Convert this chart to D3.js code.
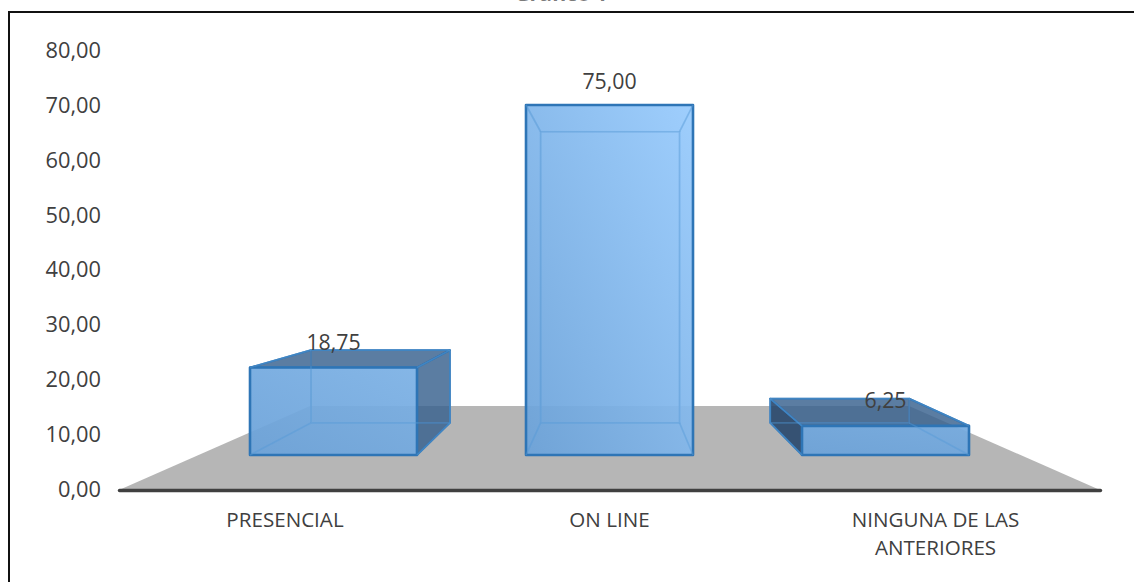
<!DOCTYPE html>
<html>
<head>
<meta charset="utf-8">
<script src="https://cdn.jsdelivr.net/npm/d3@7"></script>
<style>
  html, body { margin: 0; padding: 0; background: #fff; overflow: hidden; }
  svg { display: block; }
  text { font-family: "Open Sans", sans-serif; fill: #404040; }
</style>
</head>
<body>
<div id="chart"></div>
<script>
var categories = ['PRESENCIAL', 'ON LINE', 'NINGUNA DE LAS ANTERIORES'];
var values = [18.75, 75, 6.25];
var valueLabels = ['18,75', '75,00', '6,25'];
var tickValues = [0, 10, 20, 30, 40, 50, 60, 70, 80];
var tickLabels = ['0,00', '10,00', '20,00', '30,00', '40,00', '50,00', '60,00', '70,00', '80,00'];
var title = 'Gráfico 1';

var width = 1134, height = 582;

var svg = d3.select('#chart').append('svg')
  .attr('width', width).attr('height', height);

// frame, only top and left are inside the picture
svg.append('path')
  .attr('d', 'M9,' + height + 'V12H' + width)
  .attr('fill', 'none').attr('stroke', '#111').attr('stroke-width', 2);

// the title is cut by the top of the picture, as in the reference
svg.append('text')
  .attr('x', 561).attr('y', 1)
  .attr('text-anchor', 'middle')
  .attr('font-size', 21).attr('font-weight', 'bold')
  .attr('fill-opacity', 0.7)
  .text(title);

// axis scales
var yAxisScale = d3.scaleLinear().domain([0, 80]).range([489.5, 50.5]);
var xAxisScale = d3.scaleBand().domain(categories).range([119, 1100]);

// scales of the front plane of the boxes
var yFront = d3.scaleLinear().domain([0, 75]).range([455, 105]);
var xFront = d3.scaleBand().domain(categories)
  .range([195.5, 1023.5]).paddingInner(109 / 276).paddingOuter(54.5 / 276);

// depth goes to a vanishing point
var vanish = {x: 613, y: 264}, depth = 0.832;
function back(p) {
  return [vanish.x + depth * (p[0] - vanish.x), vanish.y + depth * (p[1] - vanish.y)];
}

// floor
var floorY = 406, floorInset = 191;
svg.append('path')
  .attr('d', d3.line()([
    [xAxisScale.range()[0], 490],
    [xAxisScale.range()[0] + floorInset, floorY],
    [xAxisScale.range()[1] - floorInset, floorY],
    [xAxisScale.range()[1], 490]
  ]) + 'Z')
  .attr('fill', '#b6b6b6');

var defs = svg.append('defs');
var baseBlue = '#6ba2d9', midBlue = '#72a8dd', brightBlue = '#98cbfd';

function poly(g, pts, fill, stroke, sw) {
  return g.append('path')
    .attr('d', d3.line()(pts) + 'Z')
    .attr('fill', fill)
    .attr('stroke', stroke)
    .attr('stroke-width', sw)
    .attr('stroke-linejoin', 'round');
}

categories.forEach(function (c, i) {
  var v = values[i];
  var x0 = xFront(c), x1 = x0 + xFront.bandwidth();
  var yb = yFront(0), yt = yFront(v);

  var fbl = [x0, yb], fbr = [x1, yb], ftl = [x0, yt], ftr = [x1, yt];
  var bbl = back(fbl), bbr = back(fbr), btl = back(ftl), btr = back(ftr);

  // gradient gets brighter with the height of the box
  var grad = defs.append('linearGradient')
    .attr('id', 'front' + i)
    .attr('x1', 0).attr('y1', 1).attr('x2', 1).attr('y2', 0);
  grad.append('stop').attr('offset', 0).attr('stop-color', baseBlue);
  grad.append('stop').attr('offset', 1)
    .attr('stop-color', d3.interpolateRgb(midBlue, brightBlue)(v / 75));

  var g = svg.append('g');
  var inner = 'rgba(91,155,213,0.12)', edge = 'rgba(91,155,213,0.7)';
  var dark = 'rgba(55,95,140,0.8)', darker = 'rgba(38,68,105,0.88)';

  poly(g, [btl, btr, bbr, bbl], inner, edge, 1.5);
  poly(g, [fbl, fbr, bbr, bbl], inner, edge, 1.2);

  // faces turned to the viewer are dark, the others are seen through the front
  var leftOut = x0 > vanish.x, rightOut = x1 < vanish.x, topOut = yt > vanish.y;
  poly(g, [ftl, btl, bbl, fbl], leftOut ? darker : inner, leftOut ? '#2e75b6' : edge, 1.8);
  poly(g, [ftr, btr, bbr, fbr], rightOut ? dark : inner, rightOut ? '#2e75b6' : edge, 1.8);
  poly(g, [ftl, ftr, btr, btl], topOut ? dark : inner, topOut ? '#2e75b6' : edge, 1.8);

  poly(g, [ftl, ftr, fbr, fbl], 'url(#front' + i + ')', '#2e75b6', 2.6)
    .attr('fill-opacity', 0.92);

  // back edges shine through
  g.append('path')
    .attr('d', d3.line()([bbl, btl, btr, bbr, bbl]))
    .attr('fill', 'none').attr('stroke', edge).attr('stroke-width', 1.6)
    .attr('stroke-opacity', 0.6);
  [[fbl, bbl], [fbr, bbr], [ftl, btl], [ftr, btr]].forEach(function (e) {
    g.append('path').attr('d', d3.line()(e))
      .attr('fill', 'none').attr('stroke', edge).attr('stroke-width', 1.6)
      .attr('stroke-opacity', 0.6);
  });

  g.append('text')
    .attr('x', (x0 + x1) / 2)
    .attr('y', yt - (topOut ? 18 : 16))
    .attr('text-anchor', 'middle')
    .attr('font-size', 21.3)
    .text(valueLabels[i]);
});

// y axis
var yAxis = d3.axisLeft(yAxisScale)
  .tickValues(tickValues)
  .tickSize(0).tickPadding(0)
  .tickFormat(function (d, i) { return tickLabels[i]; });

var yG = svg.append('g')
  .attr('transform', 'translate(101,0)')
  .call(yAxis);
yG.select('.domain').remove();
yG.selectAll('text').attr('font-size', 21.8).style('font-family', null);

// x axis
var xAxis = d3.axisBottom(xAxisScale).tickSize(0).tickPadding(0).tickFormat('');
var xG = svg.append('g')
  .attr('transform', 'translate(0,490)')
  .call(xAxis);
xG.select('.domain')
  .attr('stroke', '#404040').attr('stroke-width', 3.4).attr('stroke-linecap', 'round');

var labelShift = [2.5, 0, -1];
var wrapped = {'NINGUNA DE LAS ANTERIORES': ['NINGUNA DE LAS', 'ANTERIORES']};
xG.selectAll('.tick').each(function (c) {
  var lines = wrapped[c] || [c];
  var t = d3.select(this).select('text')
    .attr('y', 0).attr('dy', null)
    .attr('font-size', 20.6);
  lines.forEach(function (l, k) {
    t.append('tspan').attr('x', labelShift[categories.indexOf(c)]).attr('y', 37 + k * 28).text(l);
  });
});
</script>
</body>
</html>
